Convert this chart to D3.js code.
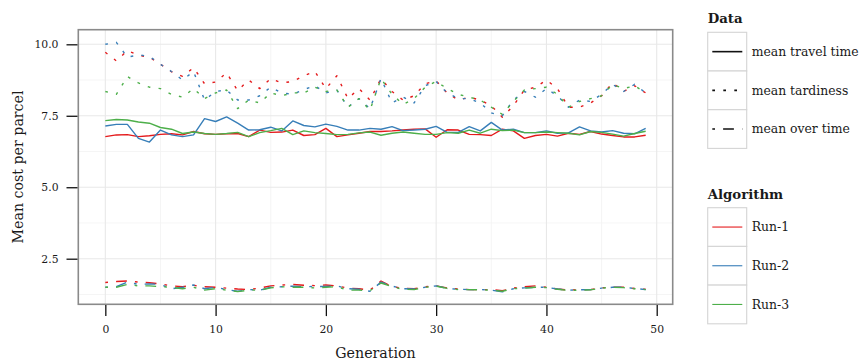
<!DOCTYPE html>
<html>
<head>
<meta charset="utf-8">
<script src="https://cdn.jsdelivr.net/npm/d3@7"></script>
<style>
  html, body { margin: 0; padding: 0; background: #ffffff; }
  svg { display: block; }
  text { font-family: "DejaVu Serif", serif; fill: #1a1a1a; }
</style>
</head>
<body>
<svg id="chart" width="861" height="361"></svg>
<script>
// ---------------- data ----------------
const generations = d3.range(0, 50);

const runs = ["Run-1", "Run-2", "Run-3"];
const metrics = ["mean travel time", "mean tardiness", "mean over time"];

const travelRun1 = [6.77,6.83,6.84,6.77,6.80,6.85,6.87,6.83,6.95,6.87,6.85,6.87,6.88,6.77,7.00,6.92,6.93,7.00,6.81,6.84,7.06,6.77,6.83,6.89,6.95,6.95,6.97,7.00,7.03,7.04,6.75,7.01,7.00,6.85,6.84,6.81,7.03,6.97,6.71,6.81,6.85,6.79,6.89,6.85,6.95,6.86,6.81,6.76,6.76,6.82];
const travelRun2 = [7.14,7.20,7.20,6.71,6.58,7.00,6.83,6.77,6.83,7.40,7.30,7.46,7.24,7.00,7.01,7.10,6.97,7.32,7.16,7.11,7.21,7.13,7.00,7.00,7.06,7.03,7.12,6.98,7.00,7.03,7.13,6.92,6.92,7.12,6.97,7.27,7.00,7.03,6.91,6.91,6.97,6.89,6.90,7.11,6.97,6.93,6.98,6.89,6.87,7.06];
const travelRun3 = [7.33,7.37,7.35,7.28,7.24,7.09,7.03,6.88,6.93,6.88,6.85,6.88,6.92,6.77,6.91,6.98,7.06,6.84,6.97,6.91,6.88,6.84,6.85,6.90,6.93,6.82,6.89,6.93,6.89,6.85,6.85,6.91,6.89,7.00,6.89,7.03,6.98,7.00,6.91,6.91,6.93,6.91,6.89,6.83,6.95,6.92,6.86,6.79,6.88,6.96];

const tardRun1 = [9.72,9.42,9.78,9.62,9.55,9.30,9.04,8.88,9.18,8.62,8.68,9.00,8.38,8.75,8.45,8.80,8.65,8.70,8.90,9.05,8.45,8.90,8.10,8.45,8.05,8.80,8.35,8.05,8.20,8.62,8.72,8.30,8.05,8.15,8.05,7.85,7.45,7.85,8.40,8.50,8.75,8.45,7.80,7.80,7.95,8.20,8.65,8.35,8.55,8.30];
const tardRun2 = [10.00,10.07,9.55,9.63,9.58,9.30,9.05,8.75,9.05,8.05,8.35,8.40,8.05,8.05,8.20,8.50,8.30,8.25,8.42,8.55,8.30,8.40,7.80,8.10,7.75,8.80,7.95,8.15,7.95,8.55,8.70,8.30,8.10,8.10,7.95,7.60,7.50,8.05,8.35,8.15,8.45,8.20,7.80,8.05,8.00,8.25,8.60,8.35,8.60,8.30];
const tardRun3 = [8.35,8.25,8.87,8.65,8.50,8.45,8.25,8.15,8.45,8.10,8.30,8.40,7.75,8.05,7.95,8.30,8.20,8.30,8.30,8.50,8.35,8.40,7.80,8.10,7.70,8.80,8.25,7.90,8.10,8.50,8.70,8.45,8.25,8.15,8.05,7.80,7.55,8.00,8.40,8.45,8.50,8.25,7.80,8.00,8.10,8.20,8.60,8.45,8.55,8.30];

const overRun1 = [1.67,1.70,1.72,1.68,1.66,1.62,1.55,1.52,1.57,1.52,1.50,1.47,1.44,1.42,1.47,1.55,1.58,1.60,1.57,1.56,1.58,1.55,1.47,1.45,1.40,1.72,1.52,1.47,1.45,1.52,1.55,1.48,1.44,1.42,1.42,1.42,1.38,1.47,1.52,1.55,1.50,1.44,1.40,1.42,1.42,1.48,1.50,1.50,1.46,1.43];
const overRun2 = [1.50,1.52,1.68,1.60,1.62,1.60,1.45,1.50,1.58,1.45,1.50,1.42,1.36,1.42,1.40,1.50,1.52,1.54,1.52,1.53,1.53,1.55,1.45,1.43,1.36,1.68,1.54,1.45,1.44,1.50,1.55,1.46,1.43,1.42,1.42,1.40,1.34,1.45,1.48,1.50,1.50,1.44,1.40,1.41,1.42,1.47,1.50,1.50,1.46,1.42];
const overRun3 = [1.50,1.50,1.60,1.55,1.55,1.52,1.50,1.45,1.50,1.40,1.45,1.40,1.35,1.40,1.40,1.48,1.52,1.50,1.50,1.48,1.50,1.52,1.40,1.40,1.38,1.65,1.52,1.43,1.42,1.50,1.54,1.46,1.42,1.42,1.41,1.40,1.36,1.45,1.47,1.50,1.49,1.43,1.39,1.40,1.41,1.47,1.50,1.49,1.45,1.42];

const xTicks = [0, 10, 20, 30, 40, 50];
const yTicks = [2.5, 5.0, 7.5, 10.0];
const xMinor = [5, 15, 25, 35, 45];
const yMinor = [1.25, 3.75, 6.25, 8.75];

// ---------------- build series ----------------
const seriesValues = {
  "mean travel time": [travelRun1, travelRun2, travelRun3],
  "mean tardiness":   [tardRun1, tardRun2, tardRun3],
  "mean over time":   [overRun1, overRun2, overRun3]
};
const series = [];
metrics.forEach(m => runs.forEach((r, k) => {
  series.push({metric: m, run: r, values: seriesValues[m][k].map((v, i) => ({g: generations[i], v}))});
}));

// ---------------- styling ----------------
const colors = d3.scaleOrdinal().domain(runs).range(["#E41A1C", "#377EB8", "#4DAF4A"]);
const dashes = d3.scaleOrdinal().domain(metrics).range(["none", "2.7,8.3", "2.7,8.1,10.8,8.1"]);

const P = {left: 78.3, right: 672.7, top: 29.7, bottom: 304.3};

const x = d3.scaleLinear().domain([-2.45, 51.45]).range([P.left, P.right]);
const y = d3.scaleLinear().domain([0.905, 10.511]).range([P.bottom, P.top]);

const svg = d3.select("#chart");

// panel background
svg.append("rect").attr("x", P.left).attr("y", P.top)
  .attr("width", P.right - P.left).attr("height", P.bottom - P.top)
  .attr("fill", "#ffffff");

const grid = svg.append("g");
grid.selectAll("line.xmin").data(xMinor).join("line")
  .attr("x1", d => x(d)).attr("x2", d => x(d)).attr("y1", P.top).attr("y2", P.bottom)
  .attr("stroke", "#f3f3f3").attr("stroke-width", 0.8);
grid.selectAll("line.ymin").data(yMinor).join("line")
  .attr("y1", d => y(d)).attr("y2", d => y(d)).attr("x1", P.left).attr("x2", P.right)
  .attr("stroke", "#f3f3f3").attr("stroke-width", 0.8);
grid.selectAll("line.xmaj").data(xTicks).join("line")
  .attr("x1", d => x(d)).attr("x2", d => x(d)).attr("y1", P.top).attr("y2", P.bottom)
  .attr("stroke", "#e8e8e8").attr("stroke-width", 1.1);
grid.selectAll("line.ymaj").data(yTicks).join("line")
  .attr("y1", d => y(d)).attr("y2", d => y(d)).attr("x1", P.left).attr("x2", P.right)
  .attr("stroke", "#e8e8e8").attr("stroke-width", 1.1);

// lines
const line = d3.line().x(d => x(d.g)).y(d => y(d.v));
const plot = svg.append("g");
plot.selectAll("path.series").data(series).join("path")
  .attr("class", "series")
  .attr("d", d => line(d.values))
  .attr("fill", "none")
  .attr("stroke", d => colors(d.run))
  .attr("stroke-width", 1.4)
  .attr("stroke-linejoin", "round")
  .attr("stroke-dasharray", d => dashes(d.metric));

// panel border
svg.append("rect").attr("x", P.left).attr("y", P.top)
  .attr("width", P.right - P.left).attr("height", P.bottom - P.top)
  .attr("fill", "none").attr("stroke", "#8a8a8a").attr("stroke-width", 1.6);

// axes
const xAxis = d3.axisBottom(x).tickValues(xTicks).tickSize(11).tickPadding(9).tickFormat(d3.format("d"));
const gx = svg.append("g").attr("transform", `translate(0,${P.bottom + 0.8})`).call(xAxis);
gx.select(".domain").remove();
gx.selectAll(".tick line").attr("stroke", "#111").attr("stroke-width", 1.3);
gx.selectAll(".tick text").attr("font-size", "10.8px").attr("fill", "#1a1a1a")
  .attr("font-family", "DejaVu Serif, serif");

const yAxis = d3.axisLeft(y).tickValues(yTicks).tickSize(11).tickPadding(8).tickFormat(d3.format(".1f"));
const gy = svg.append("g").attr("transform", `translate(${P.left - 0.8},0)`).call(yAxis);
gy.select(".domain").remove();
gy.selectAll(".tick line").attr("stroke", "#111").attr("stroke-width", 1.3);
gy.selectAll(".tick text").attr("font-size", "10.8px").attr("fill", "#1a1a1a")
  .attr("font-family", "DejaVu Serif, serif");

// axis titles
svg.append("text").attr("x", (P.left + P.right) / 2).attr("y", 357.5)
  .attr("text-anchor", "middle").attr("font-size", "14.2px").text("Generation");
svg.append("text")
  .attr("transform", `translate(23,${(P.top + P.bottom) / 2}) rotate(-90)`)
  .attr("text-anchor", "middle").attr("font-size", "14.2px").text("Mean cost per parcel");

// legends
const L = {x: 707.7, w: 39, h: 38.7, lineX1: 712.3, lineX2: 742.3, labelX: 751.7};

function legend(title, titleY, keysTop, items, strokeFn, dashFn, widthPx) {
  const g = svg.append("g");
  g.append("text").attr("x", L.x).attr("y", titleY).attr("font-size", "13.3px")
    .attr("font-weight", "bold").text(title);
  const key = g.selectAll("g.key").data(items).join("g")
    .attr("transform", (d, i) => `translate(0,${keysTop + i * L.h})`);
  key.append("rect").attr("x", L.x).attr("y", 0).attr("width", L.w).attr("height", L.h)
    .attr("fill", "#ffffff").attr("stroke", "#d4d4d4").attr("stroke-width", 1.1);
  key.append("line").attr("x1", L.lineX1).attr("x2", L.lineX2)
    .attr("y1", L.h / 2).attr("y2", L.h / 2)
    .attr("stroke", strokeFn).attr("stroke-width", widthPx)
    .attr("stroke-dasharray", dashFn);
  key.append("text").attr("x", L.labelX).attr("y", L.h / 2 + 4.3)
    .attr("font-size", "12.4px").text(d => d);
}

legend("Data", 22.5, 32.3, metrics, () => "#111", d => dashes(d), 1.6);
legend("Algorithm", 199, 207.7, runs, d => colors(d), () => "none", 1.1);
</script>
</body>
</html>
